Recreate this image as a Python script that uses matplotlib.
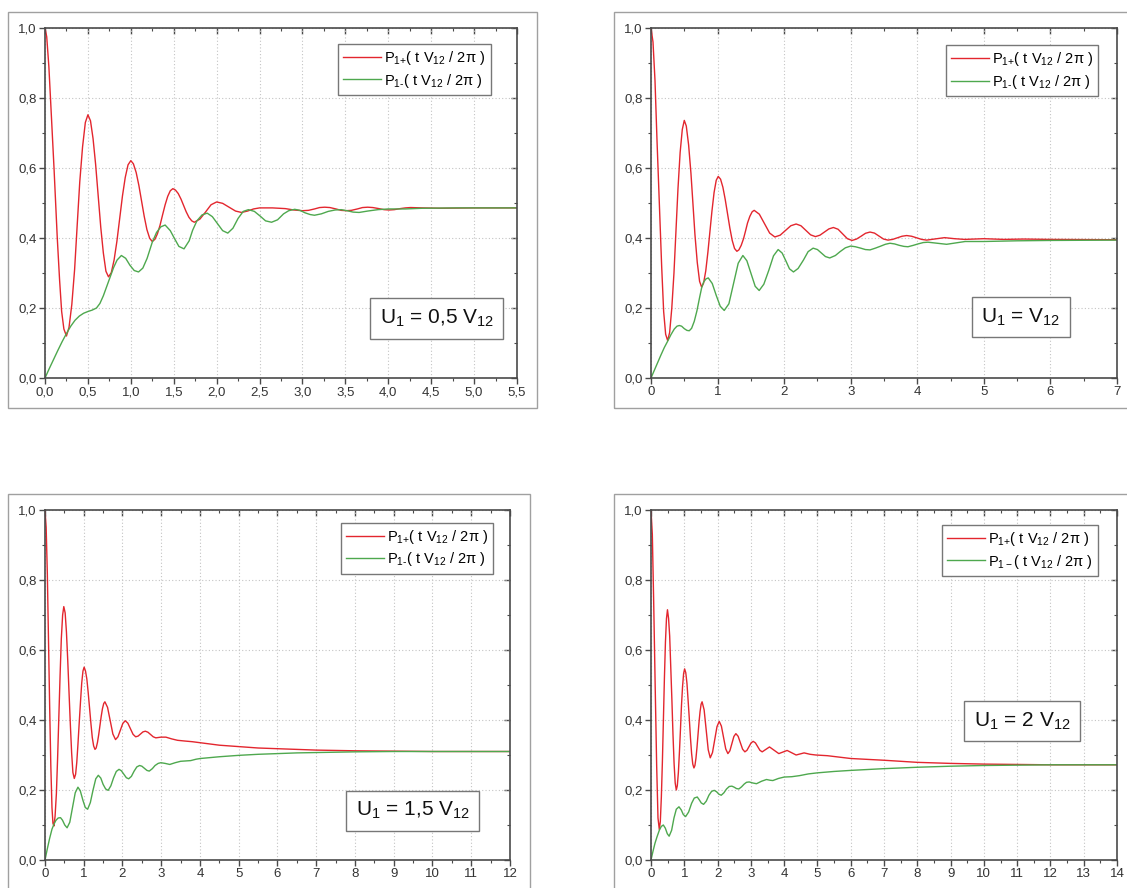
import numpy as np
import matplotlib
matplotlib.use('Agg')
import matplotlib.pyplot as plt
from matplotlib.patches import Rectangle
from matplotlib.ticker import MultipleLocator, FuncFormatter, NullFormatter

plt.rcParams['font.family'] = ['Liberation Sans', 'DejaVu Sans']
plt.rcParams['mathtext.fontset'] = 'custom'
plt.rcParams['mathtext.rm'] = 'Liberation Sans'
plt.rcParams['mathtext.it'] = 'Liberation Sans:italic'

# values, (t V12 / 2pi, probability)
p1_plus = [(0.00, 1.000), (0.02, 0.975), (0.045, 0.89), (0.07, 0.77), (0.105, 0.60), (0.143, 0.40),
           (0.17, 0.28), (0.194, 0.19), (0.22, 0.14), (0.25, 0.12), (0.28, 0.145), (0.3125, 0.21),
           (0.345, 0.31), (0.375, 0.436), (0.405, 0.56), (0.4375, 0.66), (0.47, 0.73), (0.50, 0.752),
           (0.53, 0.735), (0.56, 0.684), (0.59, 0.61), (0.62, 0.52), (0.65, 0.43), (0.68, 0.357),
           (0.71, 0.305), (0.74, 0.289), (0.7725, 0.301), (0.805, 0.337), (0.8375, 0.39), (0.87, 0.455),
           (0.9025, 0.52), (0.935, 0.573), (0.9675, 0.609), (1.00, 0.621), (1.03, 0.612), (1.0625, 0.587),
           (1.094, 0.55), (1.125, 0.506), (1.156, 0.462), (1.1875, 0.424), (1.22, 0.399), (1.25, 0.39),
           (1.28, 0.396), (1.31, 0.412), (1.34, 0.436), (1.37, 0.466), (1.40, 0.495), (1.43, 0.519),
           (1.46, 0.535), (1.49, 0.541), (1.52, 0.537), (1.5525, 0.527), (1.585, 0.511), (1.615, 0.493),
           (1.645, 0.475), (1.6775, 0.459), (1.71, 0.449), (1.74, 0.445), (1.805, 0.454), (1.87, 0.474),
           (1.935, 0.495), (2.00, 0.503), (2.07, 0.499), (2.145, 0.488), (2.22, 0.477), (2.29, 0.473),
           (2.36, 0.477), (2.43, 0.483), (2.50, 0.486), (2.65, 0.486), (2.80, 0.484), (2.90, 0.480),
           (3.00, 0.478), (3.07, 0.479), (3.14, 0.483), (3.20, 0.487), (3.26, 0.488), (3.32, 0.487),
           (3.39, 0.483), (3.45, 0.479), (3.51, 0.478), (3.57, 0.479), (3.64, 0.483), (3.70, 0.487),
           (3.76, 0.488), (3.82, 0.487), (3.89, 0.484), (3.95, 0.481), (4.01, 0.480), (4.07, 0.481),
           (4.14, 0.484), (4.20, 0.486), (4.26, 0.487), (4.40, 0.486), (4.60, 0.485), (5.00, 0.486),
           (5.50, 0.486)]
p1_minus = [(0.00, 0.000), (0.05, 0.027), (0.10, 0.053), (0.15, 0.079), (0.20, 0.104), (0.25, 0.127),
            (0.30, 0.148), (0.35, 0.165), (0.40, 0.177), (0.45, 0.185), (0.50, 0.190), (0.55, 0.194),
            (0.60, 0.200), (0.64, 0.213), (0.68, 0.235), (0.72, 0.262), (0.76, 0.289), (0.80, 0.316),
            (0.84, 0.337), (0.89, 0.350), (0.94, 0.342), (0.99, 0.322), (1.04, 0.307), (1.09, 0.303),
            (1.14, 0.314), (1.19, 0.342), (1.25, 0.388), (1.30, 0.416), (1.35, 0.432), (1.40, 0.437),
            (1.46, 0.421), (1.51, 0.398), (1.56, 0.376), (1.62, 0.369), (1.68, 0.392), (1.72, 0.422),
            (1.77, 0.449), (1.83, 0.466), (1.89, 0.471), (1.95, 0.461), (2.01, 0.441), (2.07, 0.421),
            (2.13, 0.414), (2.19, 0.428), (2.25, 0.456), (2.31, 0.476), (2.37, 0.481), (2.44, 0.476),
            (2.51, 0.462), (2.57, 0.449), (2.64, 0.445), (2.71, 0.452), (2.78, 0.469), (2.84, 0.478),
            (2.91, 0.482), (2.97, 0.479), (3.03, 0.472), (3.09, 0.467), (3.14, 0.465), (3.22, 0.469),
            (3.30, 0.476), (3.38, 0.480), (3.45, 0.481), (3.52, 0.478), (3.59, 0.474), (3.66, 0.473),
            (3.76, 0.477), (3.88, 0.481), (4.00, 0.483), (4.20, 0.483), (4.40, 0.485), (4.80, 0.486),
            (5.50, 0.486)]

p2_plus = [(0.00, 1.000), (0.03, 0.96), (0.06, 0.85), (0.09, 0.68), (0.125, 0.50), (0.16, 0.32),
           (0.19, 0.19), (0.22, 0.125), (0.25, 0.107), (0.28, 0.13), (0.3125, 0.20), (0.345, 0.30),
           (0.375, 0.42), (0.405, 0.54), (0.4375, 0.644), (0.47, 0.71), (0.50, 0.736), (0.53, 0.72),
           (0.565, 0.666), (0.60, 0.585), (0.63, 0.498), (0.66, 0.41), (0.695, 0.33), (0.73, 0.276),
           (0.76, 0.26), (0.79, 0.271), (0.8225, 0.306), (0.855, 0.36), (0.885, 0.418), (0.915, 0.476),
           (0.9475, 0.53), (0.98, 0.565), (1.01, 0.576), (1.045, 0.568), (1.08, 0.545), (1.115, 0.51),
           (1.15, 0.469), (1.185, 0.428), (1.22, 0.393), (1.255, 0.37), (1.29, 0.362), (1.32, 0.366),
           (1.355, 0.379), (1.39, 0.398), (1.42, 0.42), (1.45, 0.443), (1.485, 0.462), (1.52, 0.475),
           (1.55, 0.479), (1.6275, 0.468), (1.705, 0.441), (1.7825, 0.414), (1.86, 0.403), (1.94, 0.408),
           (2.02, 0.4215), (2.10, 0.435), (2.18, 0.44), (2.2525, 0.435), (2.325, 0.422), (2.3975, 0.409),
           (2.47, 0.404), (2.5375, 0.408), (2.605, 0.417), (2.6725, 0.426), (2.74, 0.43), (2.81, 0.425),
           (2.88, 0.4115), (2.95, 0.398), (3.02, 0.393), (3.0875, 0.397), (3.155, 0.405), (3.2225, 0.4135),
           (3.29, 0.417), (3.3575, 0.414), (3.425, 0.4055), (3.4925, 0.397), (3.56, 0.394), (3.63, 0.396),
           (3.70, 0.4005), (3.77, 0.405), (3.84, 0.407), (3.915, 0.405), (3.99, 0.4005), (4.065, 0.396),
           (4.14, 0.394), (4.275, 0.3975), (4.41, 0.401), (4.56, 0.398), (4.71, 0.396), (5.00, 0.398),
           (5.30, 0.396), (5.60, 0.397), (6.00, 0.396), (7.00, 0.395)]
p2_minus = [(0.00, 0.000), (0.05, 0.022), (0.10, 0.044), (0.15, 0.066), (0.20, 0.087), (0.25, 0.105),
            (0.30, 0.124), (0.35, 0.140), (0.39, 0.148), (0.425, 0.150), (0.46, 0.148), (0.50, 0.141),
            (0.54, 0.136), (0.575, 0.135), (0.61, 0.142), (0.65, 0.162), (0.69, 0.192), (0.73, 0.230),
            (0.76, 0.257), (0.79, 0.274), (0.825, 0.283), (0.86, 0.286), (0.92, 0.27), (0.98, 0.236),
            (1.04, 0.205), (1.10, 0.193), (1.17, 0.212), (1.24, 0.270), (1.31, 0.328), (1.38, 0.350),
            (1.44, 0.335), (1.50, 0.30), (1.565, 0.262), (1.625, 0.250), (1.695, 0.268), (1.77, 0.308),
            (1.84, 0.349), (1.91, 0.367), (1.97, 0.357), (2.025, 0.335), (2.08, 0.312), (2.14, 0.303),
            (2.21, 0.313), (2.29, 0.337), (2.36, 0.361), (2.435, 0.371), (2.50, 0.367), (2.56, 0.357),
            (2.62, 0.347), (2.685, 0.343), (2.77, 0.350), (2.84, 0.361), (2.92, 0.372), (3.00, 0.377),
            (3.07, 0.375), (3.15, 0.371), (3.22, 0.367), (3.29, 0.366), (3.37, 0.371), (3.44, 0.376),
            (3.52, 0.382), (3.59, 0.385), (3.66, 0.383), (3.73, 0.379), (3.80, 0.376), (3.86, 0.375),
            (3.94, 0.379), (4.01, 0.383), (4.09, 0.387), (4.16, 0.388), (4.30, 0.385), (4.44, 0.382),
            (4.58, 0.386), (4.72, 0.390), (5.00, 0.390), (5.50, 0.392), (6.00, 0.393), (7.00, 0.394)]

p3_plus = [(0.00, 1.000), (0.03, 0.95), (0.06, 0.82), (0.09, 0.63), (0.12, 0.44), (0.15, 0.27),
           (0.18, 0.15), (0.205, 0.105), (0.23, 0.097), (0.26, 0.125), (0.294, 0.19), (0.325, 0.29),
           (0.3575, 0.41), (0.39, 0.53), (0.421, 0.632), (0.455, 0.70), (0.485, 0.724), (0.52, 0.706),
           (0.553, 0.652), (0.587, 0.57), (0.62, 0.479), (0.655, 0.385), (0.688, 0.305), (0.72, 0.25),
           (0.756, 0.233), (0.79, 0.245), (0.82, 0.279), (0.85, 0.33), (0.883, 0.392), (0.915, 0.45),
           (0.947, 0.505), (0.98, 0.54), (1.01, 0.551), (1.045, 0.54), (1.08, 0.517), (1.115, 0.478),
           (1.15, 0.434), (1.185, 0.39), (1.22, 0.35), (1.255, 0.326), (1.29, 0.316), (1.32, 0.32),
           (1.354, 0.336), (1.386, 0.358), (1.418, 0.384), (1.45, 0.41), (1.482, 0.432), (1.515, 0.447),
           (1.546, 0.452), (1.6145, 0.436), (1.683, 0.398), (1.7515, 0.36), (1.82, 0.344), (1.8825, 0.352),
           (1.945, 0.371), (2.0075, 0.39), (2.07, 0.398), (2.1375, 0.391), (2.205, 0.375), (2.2725, 0.359),
           (2.34, 0.352), (2.4025, 0.354), (2.465, 0.36), (2.5275, 0.366), (2.59, 0.368), (2.6575, 0.365),
           (2.725, 0.3585), (2.7925, 0.352), (2.86, 0.349), (2.99, 0.351), (3.12, 0.351), (3.27, 0.346),
           (3.42, 0.342), (3.60, 0.340), (3.80, 0.338), (4.01, 0.335), (4.50, 0.328), (5.00, 0.324),
           (5.50, 0.320), (6.00, 0.318), (7.00, 0.314), (8.00, 0.312), (9.00, 0.311), (10.00, 0.310),
           (12.00, 0.310)]
p3_minus = [(0.00, 0.000), (0.06, 0.032), (0.12, 0.062), (0.18, 0.088), (0.23, 0.102), (0.28, 0.113),
            (0.34, 0.120), (0.40, 0.121), (0.45, 0.114), (0.51, 0.100), (0.57, 0.092), (0.64, 0.108),
            (0.71, 0.150), (0.78, 0.192), (0.85, 0.208), (0.91, 0.198), (0.98, 0.170), (1.04, 0.150),
            (1.10, 0.145), (1.17, 0.164), (1.24, 0.200), (1.31, 0.232), (1.376, 0.242), (1.44, 0.234),
            (1.50, 0.216), (1.565, 0.203), (1.63, 0.199), (1.70, 0.212), (1.77, 0.235), (1.84, 0.253),
            (1.91, 0.259), (1.97, 0.255), (2.035, 0.245), (2.10, 0.235), (2.16, 0.232), (2.23, 0.239),
            (2.30, 0.254), (2.37, 0.266), (2.44, 0.270), (2.50, 0.268), (2.565, 0.262), (2.63, 0.256),
            (2.69, 0.254), (2.77, 0.261), (2.84, 0.270), (2.92, 0.276), (2.99, 0.278), (3.10, 0.276),
            (3.22, 0.273), (3.36, 0.278), (3.50, 0.282), (3.63, 0.283), (3.76, 0.284), (3.90, 0.288),
            (4.01, 0.290), (4.50, 0.295), (5.00, 0.299), (5.50, 0.302), (6.00, 0.304), (6.50, 0.306),
            (7.00, 0.307), (8.00, 0.309), (9.00, 0.310), (10.00, 0.310), (12.00, 0.310)]

p4_plus = [(0.00, 1.000), (0.04, 0.93), (0.08, 0.74), (0.125, 0.50), (0.17, 0.27), (0.21, 0.12),
           (0.25, 0.087), (0.28, 0.11), (0.311, 0.18), (0.342, 0.28), (0.3725, 0.40), (0.403, 0.52),
           (0.434, 0.623), (0.465, 0.69), (0.495, 0.715), (0.528, 0.69), (0.561, 0.64), (0.594, 0.55),
           (0.6275, 0.458), (0.66, 0.36), (0.694, 0.275), (0.727, 0.22), (0.76, 0.20), (0.79, 0.212),
           (0.8225, 0.25), (0.855, 0.31), (0.885, 0.373), (0.915, 0.44), (0.9475, 0.495), (0.98, 0.533),
           (1.01, 0.546), (1.045, 0.535), (1.08, 0.505), (1.115, 0.456), (1.15, 0.405), (1.185, 0.35),
           (1.22, 0.304), (1.255, 0.274), (1.29, 0.263), (1.32, 0.27), (1.351, 0.291), (1.382, 0.322),
           (1.4125, 0.358), (1.443, 0.394), (1.474, 0.424), (1.505, 0.445), (1.535, 0.452), (1.596, 0.429),
           (1.6575, 0.372), (1.719, 0.315), (1.78, 0.292), (1.8475, 0.307), (1.915, 0.344), (1.9825, 0.381),
           (2.05, 0.396), (2.115, 0.3825), (2.18, 0.35), (2.245, 0.3175), (2.31, 0.304), (2.37, 0.312),
           (2.43, 0.3325), (2.49, 0.353), (2.55, 0.361), (2.6175, 0.3535), (2.685, 0.335), (2.7525, 0.3165),
           (2.82, 0.309), (2.8825, 0.3134), (2.945, 0.324), (3.0075, 0.3346), (3.07, 0.339), (3.1375, 0.3346),
           (3.205, 0.324), (3.2725, 0.3134), (3.34, 0.309), (3.45, 0.316), (3.56, 0.323), (3.70, 0.3135),
           (3.84, 0.304), (3.965, 0.3085), (4.09, 0.313), (4.225, 0.3065), (4.36, 0.300), (4.48, 0.303),
           (4.60, 0.306), (4.78, 0.302), (4.95, 0.300), (5.30, 0.298), (6.00, 0.290), (7.00, 0.285),
           (8.00, 0.279), (9.00, 0.276), (10.00, 0.274), (11.00, 0.273), (12.00, 0.272), (14.00, 0.272)]
p4_minus = [(0.00, 0.000), (0.06, 0.025), (0.12, 0.048), (0.18, 0.066), (0.25, 0.085), (0.31, 0.096),
            (0.37, 0.100), (0.43, 0.091), (0.49, 0.075), (0.545, 0.068), (0.62, 0.085), (0.69, 0.120),
            (0.76, 0.145), (0.84, 0.152), (0.91, 0.143), (0.97, 0.130), (1.04, 0.124), (1.13, 0.137),
            (1.22, 0.162), (1.30, 0.177), (1.39, 0.180), (1.45, 0.172), (1.51, 0.163), (1.58, 0.159),
            (1.66, 0.168), (1.74, 0.185), (1.82, 0.196), (1.90, 0.199), (1.97, 0.195), (2.04, 0.188),
            (2.11, 0.185), (2.19, 0.192), (2.27, 0.203), (2.35, 0.210), (2.43, 0.211), (2.50, 0.208),
            (2.57, 0.204), (2.64, 0.203), (2.72, 0.209), (2.80, 0.217), (2.87, 0.222), (2.95, 0.223),
            (3.06, 0.220), (3.17, 0.218), (3.32, 0.225), (3.47, 0.230), (3.57, 0.228), (3.66, 0.227),
            (3.83, 0.233), (4.00, 0.237), (4.23, 0.238), (4.46, 0.241), (4.73, 0.246), (5.00, 0.249),
            (5.50, 0.253), (6.00, 0.256), (7.00, 0.261), (8.00, 0.265), (9.00, 0.268), (10.00, 0.270),
            (11.00, 0.271), (12.00, 0.272), (14.00, 0.272)]

x_max = [5.5, 7, 12, 14]
x_major = [0.5, 1, 1, 1]
u_labels = [r'U$_1$ = 0,5 V$_{12}$', r'U$_1$ = V$_{12}$', r'U$_1$ = 1,5 V$_{12}$', r'U$_1$ = 2 V$_{12}$']
minus_sub = [r'1\text{-}', r'1\text{-}', r'1\text{-}', r'1-']

# layout in pixels: (left, right, top, bottom) of the plot area, and the outer frame
W, H = 1127, 888
axes_px = [(45, 517, 28, 378), (651, 1117, 28, 378), (45, 510, 510, 860), (651, 1117, 510, 860)]
frame_px = [(8, 537, 12, 408), (614, 1140, 12, 408), (8, 530, 494, 900), (614, 1140, 494, 900)]
u_pos = [(0.83, 0.17), (0.794, 0.173), (0.791, 0.141), (0.796, 0.396)]
leg_anchor = [(0.944, 0.954), (0.960, 0.951), (0.963, 0.963), (0.959, 0.957)]

red = '#e3262e'
green = '#4ea84e'
axis_col = '#4a4a4a'


def comma1(v, p):
    return f'{v:.1f}'.replace('.', ',')


def whole(v, p):
    return f'{v:.0f}'


fig = plt.figure(figsize=(W / 100, H / 100), dpi=100)

curves = [(p1_plus, p1_minus), (p2_plus, p2_minus), (p3_plus, p3_minus), (p4_plus, p4_minus)]

for i, (plus, minus) in enumerate(curves):
    l, r, t, b = axes_px[i]
    ax = fig.add_axes([l / W, 1 - b / H, (r - l) / W, (b - t) / H])

    fl, fr, ft, fb = frame_px[i]
    fig.add_artist(Rectangle((fl / W, 1 - fb / H), (fr - fl) / W, (fb - ft) / H,
                             transform=fig.transFigure, fill=False,
                             edgecolor='#a0a0a0', lw=1.0, clip_on=False))

    tp, yp = np.array(plus).T
    tm, ym = np.array(minus).T
    ax.plot(tp, yp, color=red, lw=1.0,
            label=r'P$_{1\text{+}}$( t V$_{12}$ / 2π )')
    ax.plot(tm, ym, color=green, lw=1.0,
            label=r'P$_{' + minus_sub[i] + r'}$( t V$_{12}$ / 2π )')

    ax.set_xlim(0, x_max[i])
    ax.set_ylim(0, 1.0)
    xfmt = comma1 if x_major[i] < 1 else whole

    ax.xaxis.set_major_locator(MultipleLocator(x_major[i]))
    ax.xaxis.set_minor_locator(MultipleLocator(x_major[i] / 2))
    ax.yaxis.set_major_locator(MultipleLocator(0.2))
    ax.yaxis.set_minor_locator(MultipleLocator(0.1))
    ax.xaxis.set_major_formatter(FuncFormatter(xfmt))
    ax.yaxis.set_major_formatter(FuncFormatter(comma1))

    ax.grid(True, which='major', linestyle=(0, (1, 2)), color='#c4c4c4', lw=0.8)
    for s in ax.spines.values():
        s.set_color(axis_col)
        s.set_linewidth(1.2)
    ax.tick_params(which='both', direction='out', color=axis_col,
                   labelsize=9.5, labelcolor='#333333')
    ax.tick_params(which='major', length=4, width=1.0, pad=2)
    ax.tick_params(which='minor', length=2.5, width=0.8)

    # inward ticks on the top and right sides
    top = ax.secondary_xaxis('top')
    top.xaxis.set_major_locator(MultipleLocator(x_major[i]))
    top.xaxis.set_minor_locator(MultipleLocator(x_major[i] / 2))
    top.xaxis.set_major_formatter(NullFormatter())
    top.tick_params(which='both', direction='in', color=axis_col)
    top.tick_params(which='major', length=4, width=1.0)
    top.tick_params(which='minor', length=2.5, width=0.8)
    top.spines['top'].set_visible(False)

    right = ax.secondary_yaxis('right')
    right.yaxis.set_major_locator(MultipleLocator(0.2))
    right.yaxis.set_minor_locator(MultipleLocator(0.1))
    right.yaxis.set_major_formatter(NullFormatter())
    right.tick_params(which='both', direction='in', color=axis_col)
    right.tick_params(which='major', length=4, width=1.0)
    right.tick_params(which='minor', length=2.5, width=0.8)
    right.spines['right'].set_visible(False)

    leg = ax.legend(loc='upper right', bbox_to_anchor=leg_anchor[i], fontsize=10.5,
                    frameon=True, fancybox=False, framealpha=1, edgecolor='#777777',
                    handlelength=2.6, handletextpad=0.2, borderpad=0.35, labelspacing=0.3,
                    borderaxespad=0)
    leg.get_frame().set_linewidth(1.0)

    ax.text(u_pos[i][0], u_pos[i][1], u_labels[i], transform=ax.transAxes,
            ha='center', va='center', fontsize=15, color='#111111',
            bbox=dict(boxstyle='square,pad=0.45', fc='white', ec='#777777', lw=1.0))

fig.savefig('out.png', dpi=100)
